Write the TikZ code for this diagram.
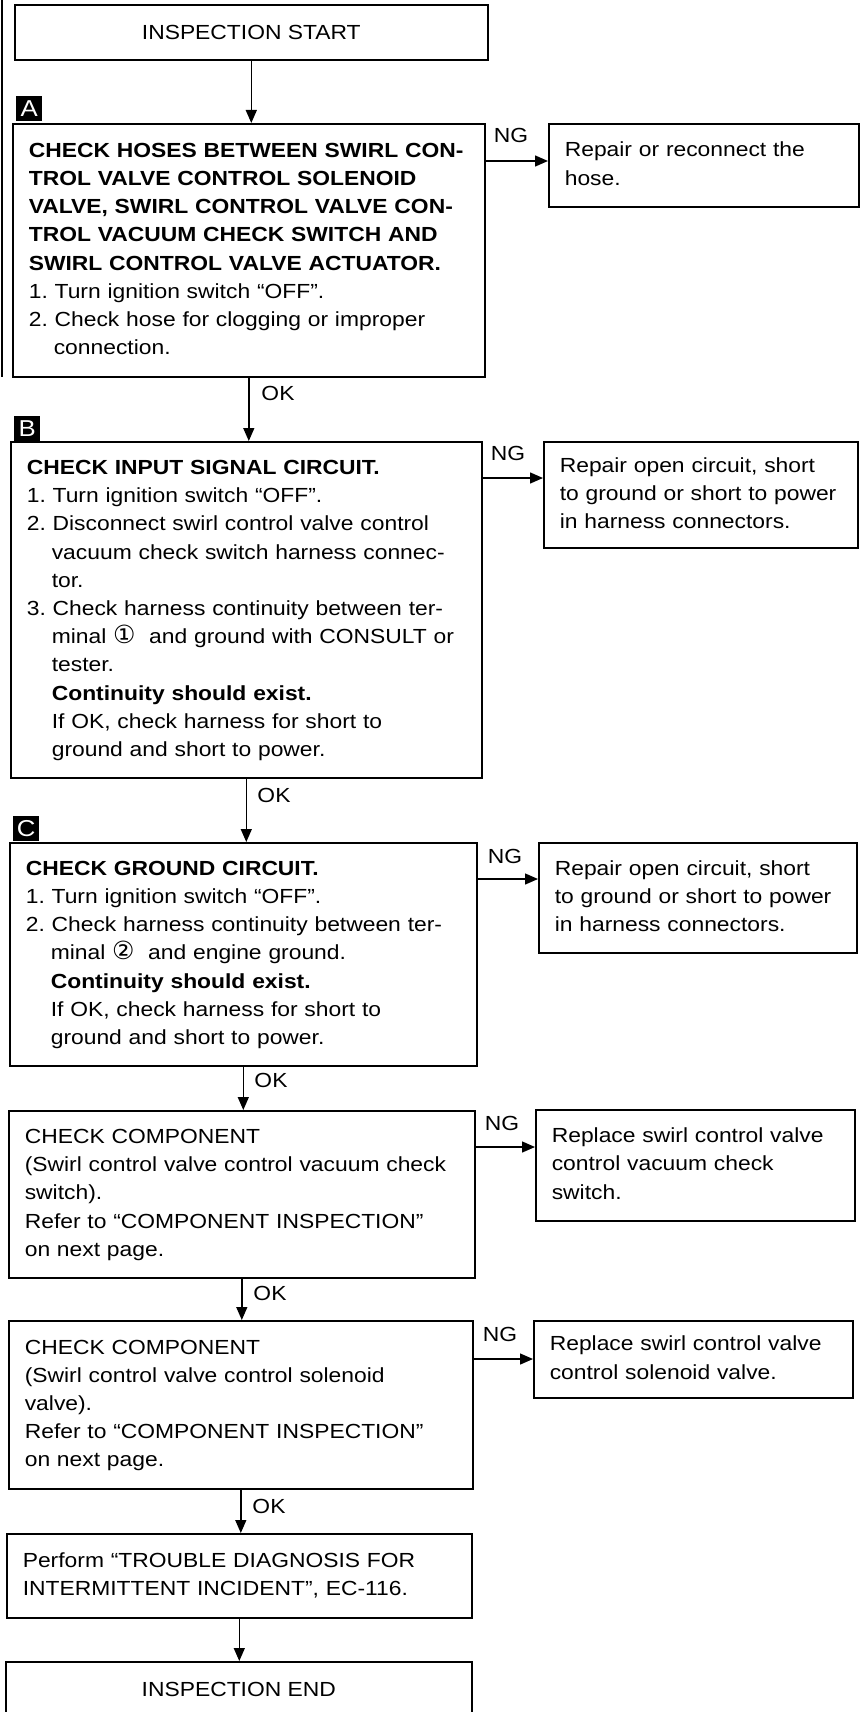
\documentclass[tikz,border=0pt]{standalone}
\usepackage{fontspec}
\setmainfont{Liberation Sans}[FakeStretch=1.12]
\newfontfamily\symfont{DejaVu Sans}
\usetikzlibrary{arrows.meta,calc}
\newcommand\bodyfont{\fontsize{20.4}{28.2}\selectfont\frenchspacing}
\newcommand\ind{\hspace*{25pt}}
\newcommand\cnum[1]{{\symfont\fontsize{25}{28.2}\selectfont #1}}
\begin{document}
\frenchspacing
\begin{tikzpicture}[x=1pt,y=-1pt,
  box/.style={draw, line width=1.6pt, anchor=north west, inner xsep=16pt, inner ysep=0pt, font=\bodyfont, align=left},
  cbox/.style={draw, line width=1.6pt, anchor=north west, inner sep=0pt, font=\bodyfont, align=center},
  marker/.style={fill=black, text=white, anchor=north west, inner sep=0pt, minimum width=26pt, minimum height=25pt, font=\fontsize{23}{23}\selectfont},
  lbl/.style={font=\bodyfont, inner sep=0pt},
  arr/.style={line width=1.4pt, -{Triangle[length=13pt,width=11pt]}}
]
\useasboundingbox (0,0) rectangle (865,1712);
\clip (0,0) rectangle (865,1712);
\draw[line width=1.2pt] (2,0) -- (2,377);

% main column
\node[cbox, minimum width=473pt, minimum height=55pt] (S) at (14,4) {INSPECTION START};

\node[marker] (mA) at (16,96) {A};
\node[box, minimum width=472pt, minimum height=253pt, text width=440pt] (A) at (12,123) {\begin{tabular}{@{}l@{}}
\textbf{CHECK HOSES BETWEEN SWIRL CON-}\\
\textbf{TROL VALVE CONTROL SOLENOID}\\
\textbf{VALVE, SWIRL CONTROL VALVE CON-}\\
\textbf{TROL VACUUM CHECK SWITCH AND}\\
\textbf{SWIRL CONTROL VALVE ACTUATOR.}\\
1. Turn ignition switch “OFF”.\\
2. Check hose for clogging or improper\\
\ind connection.
\end{tabular}};

\node[marker] (mB) at (14,416) {B};
\node[box, minimum width=471pt, minimum height=336pt, text width=439pt] (B) at (10,441) {\begin{tabular}{@{}l@{}}
\textbf{CHECK INPUT SIGNAL CIRCUIT.}\\
1. Turn ignition switch “OFF”.\\
2. Disconnect swirl control valve control\\
\ind vacuum check switch harness connec-\\
\ind tor.\\
3. Check harness continuity between ter-\\
\ind minal \cnum{①}\ \ and ground with CONSULT or\\
\ind tester.\\
\ind \textbf{Continuity should exist.}\\
\ind If OK, check harness for short to\\
\ind ground and short to power.
\end{tabular}};

\node[marker] (mC) at (13,816) {C};
\node[box, minimum width=467pt, minimum height=223pt, text width=435pt] (C) at (9,842) {\begin{tabular}{@{}l@{}}
\textbf{CHECK GROUND CIRCUIT.}\\
1. Turn ignition switch “OFF”.\\
2. Check harness continuity between ter-\\
\ind minal \cnum{②}\ \ and engine ground.\\
\ind \textbf{Continuity should exist.}\\
\ind If OK, check harness for short to\\
\ind ground and short to power.
\end{tabular}};

\node[box, minimum width=466pt, minimum height=167pt, text width=434pt] (D) at (8,1110) {\begin{tabular}{@{}l@{}}
CHECK COMPONENT\\
(Swirl control valve control vacuum check\\
switch).\\
Refer to “COMPONENT INSPECTION”\\
on next page.
\end{tabular}};

\node[box, minimum width=464pt, minimum height=168pt, text width=432pt] (E) at (8,1320) {\begin{tabular}{@{}l@{}}
CHECK COMPONENT\\
(Swirl control valve control solenoid\\
valve).\\
Refer to “COMPONENT INSPECTION”\\
on next page.
\end{tabular}};

\node[box, minimum width=465pt, minimum height=84pt, text width=433pt] (F) at (6,1533) {\begin{tabular}{@{}l@{}}
Perform “TROUBLE DIAGNOSIS FOR\\
INTERMITTENT INCIDENT", EC-116.
\end{tabular}};

\node[cbox, minimum width=466pt, minimum height=56pt] (End) at (5,1661) {INSPECTION END};

% NG column
\node[box, minimum width=310pt, minimum height=83pt, text width=278pt] (NA) at (548,123) {\begin{tabular}{@{}l@{}}
Repair or reconnect the\\
hose.
\end{tabular}};
\node[box, minimum width=314pt, minimum height=106pt, text width=282pt] (NB) at (543,441) {\begin{tabular}{@{}l@{}}
Repair open circuit, short\\
to ground or short to power\\
in harness connectors.
\end{tabular}};
\node[box, minimum width=318pt, minimum height=110pt, text width=286pt] (NC) at (538,842) {\begin{tabular}{@{}l@{}}
Repair open circuit, short\\
to ground or short to power\\
in harness connectors.
\end{tabular}};
\node[box, minimum width=319pt, minimum height=111pt, text width=287pt] (ND) at (535,1109) {\begin{tabular}{@{}l@{}}
Replace swirl control valve\\
control vacuum check\\
switch.
\end{tabular}};
\node[box, minimum width=319pt, minimum height=77pt, text width=287pt] (NE) at (533,1320) {\begin{tabular}{@{}l@{}}
Replace swirl control valve\\
control solenoid valve.
\end{tabular}};

% vertical connectors
\draw[arr] (S.south) -- (S.south |- A.north);
\draw[arr] (A.south) -- (A.south |- B.north);
\draw[arr] (B.south) -- (B.south |- C.north);
\draw[arr] (C.south) -- (C.south |- D.north);
\draw[arr] (D.south) -- (D.south |- E.north);
\draw[arr] (E.south) -- (E.south |- F.north);
\draw[arr] (F.south) -- (F.south |- End.north);

% NG connectors
\path (A.north east) ++(0,38) coordinate (ya);
\path (B.north east) ++(0,37) coordinate (yb);
\path (C.north east) ++(0,37) coordinate (yc);
\path (D.north east) ++(0,37) coordinate (yd);
\path (E.north east) ++(0,39) coordinate (ye);
\draw[arr] (ya) -- (ya -| NA.west);
\draw[arr] (yb) -- (yb -| NB.west);
\draw[arr] (yc) -- (yc -| NC.west);
\draw[arr] (yd) -- (yd -| ND.west);
\draw[arr] (ye) -- (ye -| NE.west);

% labels
\node[lbl] (ngA) at (511,135) {NG};
\node[lbl] (ngB) at (508,453) {NG};
\node[lbl] (ngC) at (505,856) {NG};
\node[lbl] (ngD) at (502,1123) {NG};
\node[lbl] (ngE) at (500,1334) {NG};
\node[lbl] (okA) at (278,393) {OK};
\node[lbl] (okB) at (274,795) {OK};
\node[lbl] (okC) at (271,1080) {OK};
\node[lbl] (okD) at (270,1293) {OK};
\node[lbl] (okE) at (269,1506) {OK};
\end{tikzpicture}
\end{document}
